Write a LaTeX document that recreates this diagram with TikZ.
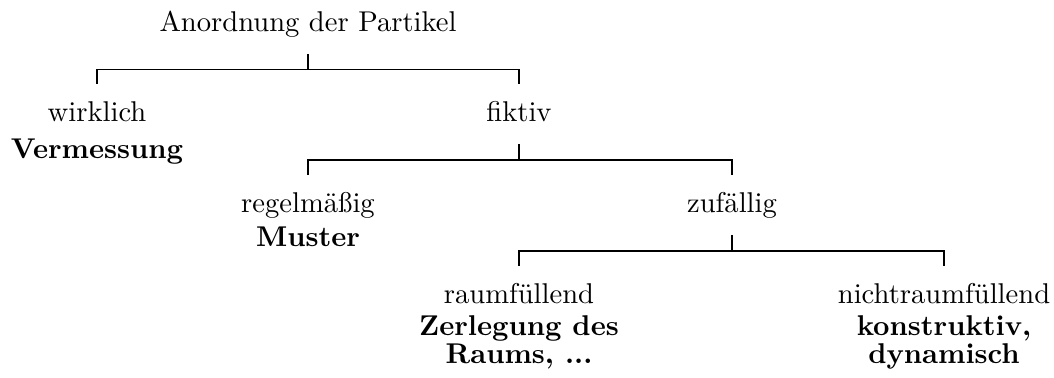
\documentclass[tikz,border=0pt]{standalone}
\usepackage{fontspec}
\begin{document}
\begin{tikzpicture}[x=0.3497pt,y=-0.3497pt,
  cat/.style={anchor=base,inner sep=0pt,outer sep=0pt,text height=13.29pt,text depth=7.69pt},
  sub/.style={anchor=base,inner sep=0pt,outer sep=0pt,font=\bfseries},
  branch/.style={line width=0.4pt}]
\useasboundingbox[fill=white] (0,0) rectangle (1054,378);

% labels of the tree
\node[cat] (root) at (308,32)  {Anordnung der Partikel};
\node[cat] (wirk) at (97,122)  {wirklich};
\node[sub] (verm) at (97,159)  {Vermessung};
\node[cat] (fikt) at (519,122) {fiktiv};
\node[cat] (regel) at (308,213) {regelmäßig};
\node[sub] (must) at (308,247)  {Muster};
\node[cat] (zuf) at (732,213)  {zufällig};
\node[cat] (raum) at (519,304) {raumfüllend};
\node[sub] (zer1) at (519,336) {Zerlegung des};
\node[sub] (zer2) at (519,364) {Raums, ...};
\node[cat] (nraum) at (944,304) {nichtraumfüllend};
\node[sub] (kon1) at (944,336) {konstruktiv,};
\node[sub] (kon2) at (944,364) {dynamisch};

% branches
\draw[branch] (root.south) -- ++(0,15.5) coordinate (j1);
\draw[branch] (wirk.north) |- (j1) -| (fikt.north);
\draw[branch] (fikt.south) -- ++(0,16) coordinate (j2);
\draw[branch] (regel.north) |- (j2) -| (zuf.north);
\draw[branch] (zuf.south) -- ++(0,16) coordinate (j3);
\draw[branch] (raum.north) |- (j3) -| (nraum.north);
\end{tikzpicture}
\end{document}
